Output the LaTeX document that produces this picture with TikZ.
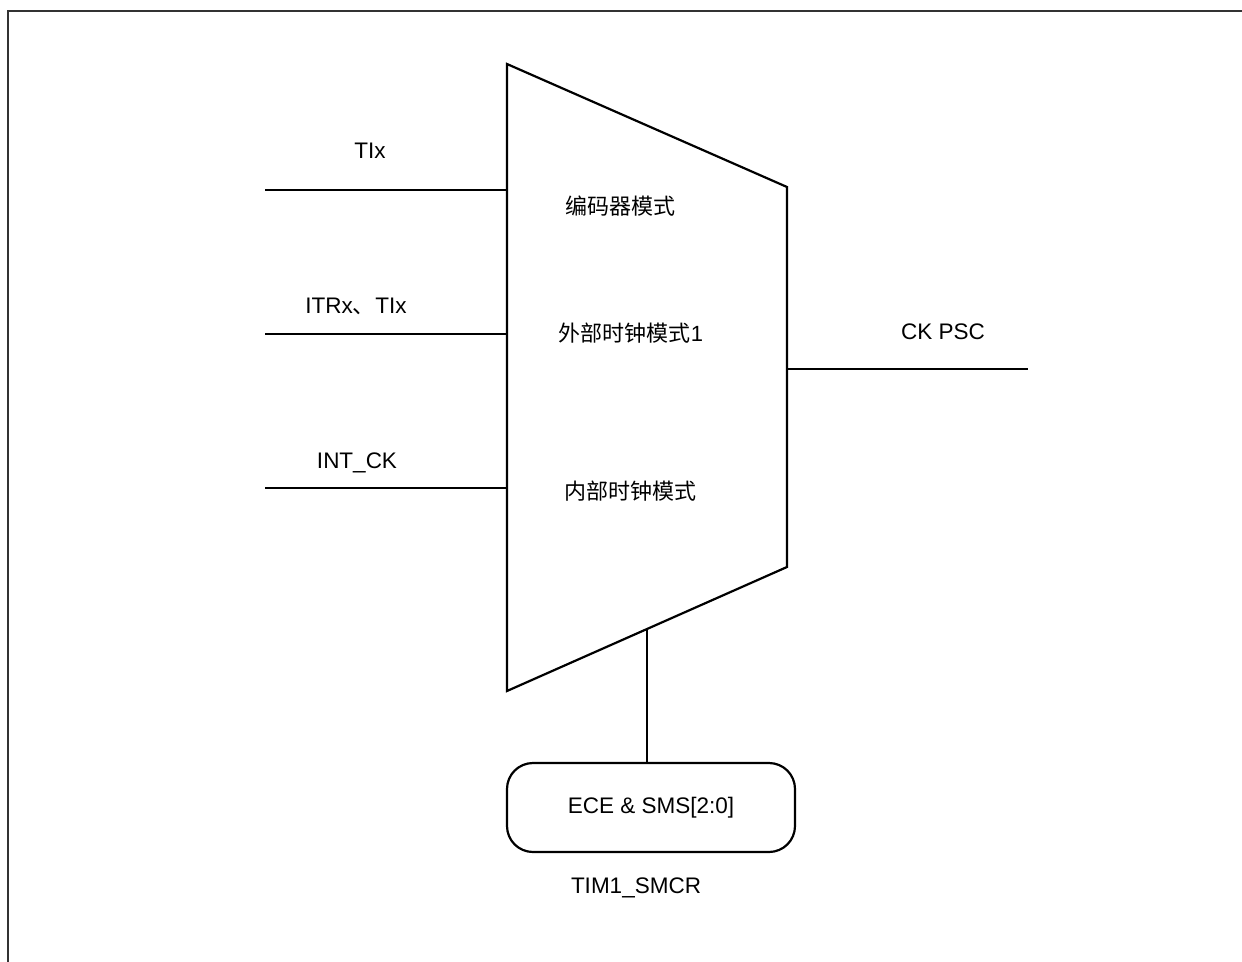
\documentclass[tikz,border=0pt]{standalone}
\usepackage{fontspec}
\setmainfont{Liberation Sans}
\newfontfamily\cjk{Noto Sans CJK SC}
\usetikzlibrary{calc}
\begin{document}
\begin{tikzpicture}[x=1pt,y=-1pt,
  wire/.style={line width=2.2pt},
  lbl/.style={inner sep=0pt,font=\fontsize{22.5}{27}\selectfont},
  clbl/.style={inner sep=0pt,font=\cjk\fontsize{22}{27}\selectfont},
  regbox/.style={draw,line width=2.2pt,rounded corners=26pt,minimum width=288pt,minimum height=89pt,font=\fontsize{22.5}{27}\selectfont}]
\useasboundingbox (0,0) rectangle (1242,961);
% frame
\draw[line width=2.5pt,black!80] (8,962) -- (8,11) -- (1243,11);
% multiplexer trapezoid
\coordinate (tl) at (507,64);
\coordinate (tr) at (787,187);
\coordinate (br) at (787,567);
\coordinate (bl) at (507,691);
\draw[wire,line join=miter] (tl) -- (tr) -- (br) -- (bl) -- cycle;
% inputs
\coordinate (in1) at (265,190);
\coordinate (m1) at (507,190);
\coordinate (in2) at (265,334);
\coordinate (m2) at (507,334);
\coordinate (in3) at (265,488);
\coordinate (m3) at (507,488);
\draw[wire] (in1) -- (m1);
\draw[wire] (in2) -- (m2);
\draw[wire] (in3) -- (m3);
\node[lbl] (l1) at (370,151) {TIx};
\node[lbl] (l2) at (356,306) {ITRx{\cjk 、}TIx};
\node[lbl] (l3) at (357,463) {INT\_CK};
% mode labels
\node[clbl] (c1) at (620,206) {编码器模式};
\node[clbl] (c2) at (631,333) {外部时钟模式{\fontspec{Liberation Sans}1}};
\node[clbl] (c3) at (630,491) {内部时钟模式};
% output
\coordinate (o1) at (787,369);
\coordinate (o2) at (1028,369);
\draw[wire] (o1) -- (o2);
\node[lbl] (ck) at (943,332) {CK PSC};
% control register
\node[regbox] (reg) at (651,807.5) {ECE \& SMS[2:0]};
\coordinate (sel) at ($(bl)!0.5!(br)$);
\draw[wire] (sel) -- (sel |- reg.north);
\node[lbl] (smcr) at (636,888) {TIM1\_SMCR};
\end{tikzpicture}
\end{document}
